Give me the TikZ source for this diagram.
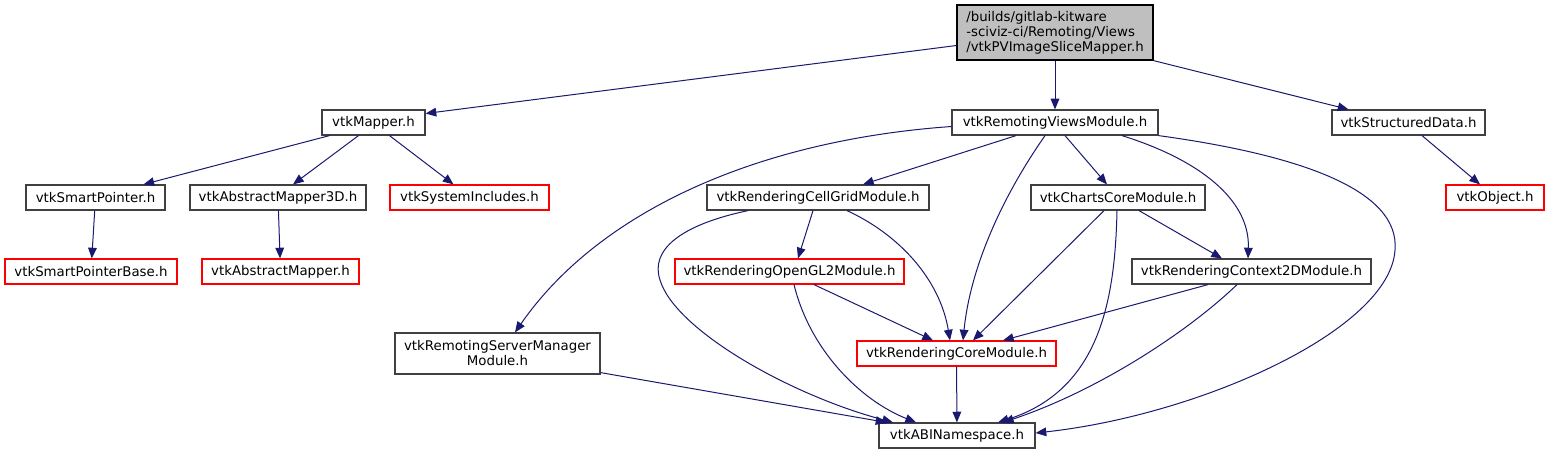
\documentclass[tikz,border=0pt]{standalone}
\usepackage{fontspec}
\setmainfont{DejaVu Sans}
\usetikzlibrary{arrows.meta,calc}
\definecolor{edgeblue}{HTML}{191970}
\definecolor{boxgrey}{HTML}{404040}
\definecolor{topfill}{HTML}{BFBFBF}
\tikzset{
  hdr/.style={draw=boxgrey,fill=white,line width=0.9pt,inner sep=0pt,minimum height=18.75pt,font=\fontsize{10}{11.25}\selectfont},
  hdrred/.style={hdr,draw=red},
  wd/.style={minimum width=#1*0.75pt},
  dep/.style={draw=edgeblue,line width=0.75pt,-{Triangle[length=8pt,width=6.5pt]}},
}
\begin{document}
\begin{tikzpicture}[x=0.75pt,y=-0.75pt]
  \useasboundingbox (0,0) rectangle (1549,455);
  % headers
  \node[hdr,draw=black,fill=topfill,wd=196,minimum height=41.25pt,align=left](top)at(1055,32.5){/builds/gitlab-kitware\\-sciviz-ci/Remoting/Views\\/vtkPVImageSliceMapper.h};
  \node[hdr,wd=103](mapper)at(373.5,122.5){vtkMapper.h};
  \node[hdr,wd=206](rviews)at(1055,122.5){vtkRemotingViewsModule.h};
  \node[hdr,wd=153](sdata)at(1408.5,122.5){vtkStructuredData.h};
  \node[hdr,wd=139](sptr)at(95.5,197.5){vtkSmartPointer.h};
  \node[hdr,wd=176](amap3d)at(278,197.5){vtkAbstractMapper3D.h};
  \node[hdrred,wd=159](sysinc)at(469.5,197.5){vtkSystemIncludes.h};
  \node[hdr,wd=222](cellgrid)at(818,197.5){vtkRenderingCellGridModule.h};
  \node[hdr,wd=174](charts)at(1118,197.5){vtkChartsCoreModule.h};
  \node[hdrred,wd=98](object)at(1495,197.5){vtkObject.h};
  \node[hdrred,wd=172](sptrbase)at(91,271.5){vtkSmartPointerBase.h};
  \node[hdrred,wd=157](amap)at(280.5,271.5){vtkAbstractMapper.h};
  \node[hdrred,wd=229](opengl)at(789.5,271.5){vtkRenderingOpenGL2Module.h};
  \node[hdr,wd=239](ctx2d)at(1251.5,271.5){vtkRenderingContext2DModule.h};
  \node[hdr,wd=205,minimum height=30.75pt,align=center](srvmgr)at(497.5,353.5){vtkRemotingServerManager\\Module.h};
  \node[hdrred,wd=199](rcore)at(956.5,353.5){vtkRenderingCoreModule.h};
  \node[hdr,wd=156](abi)at(957,435.5){vtkABINamespace.h};
  % includes
  \draw[dep] ($(top.west)+(0,13)$) -- ($(mapper.east)+(0,-9)$);
  \draw[dep] (top.south) -- (rviews.north);
  \draw[dep] (top.south east) -- ($(sdata.north)+(-60,0)$);
  \draw[dep] ($(mapper.south)+(-44,0)$) -- ($(sptr.north)+(48,0)$);
  \draw[dep] ($(mapper.south)+(-15,0)$) -- ($(amap3d.north)+(15,0)$);
  \draw[dep] ($(mapper.south)+(16,0)$) -- ($(sysinc.north)+(-16,0)$);
  \draw[dep] (sptr) -- (sptrbase);
  \draw[dep] (amap3d) -- (amap);
  \draw[dep] ($(sdata.south)+(13.5,0)$) -- ($(object.north)+(-15,0)$);
  \draw[dep] ($(rviews.south)+(-39,0)$) -- ($(cellgrid.north)+(45,0)$);
  \draw[dep] ($(rviews.south)+(10,0)$) -- ($(charts.north)+(-11,0)$);
  \draw[dep] ($(rviews.south)+(-10,0)$) .. controls (1000,200) and (970,270) .. ($(rcore.north)+(6.5,0)$);
  \draw[dep] ($(rviews.south)+(67,0)$) .. controls (1200,160) and (1250,200) .. ($(ctx2d.north)+(-3.5,0)$);
  \draw[dep] (rviews.south east) .. controls (1300,155) and (1400,190) .. (1395,250)
    .. controls (1390,330) and (1200,415) .. ($(abi.east)+(0,-2.5)$);
  \draw[dep] ($(rviews.west)+(0,4)$) .. controls (760,140) and (600,210) .. ($(srvmgr.north)+(17.5,0)$);
  \draw[dep] ($(cellgrid.south)+(-5,0)$) -- ($(opengl.north)+(8.5,0)$);
  \draw[dep] ($(cellgrid.south)+(29,0)$) .. controls (900,235) and (940,280) .. ($(rcore.north)+(-6.5,0)$);
  \draw[dep] ($(cellgrid.south)+(-70,0)$) .. controls (680,225) and (650,250) .. (660,280)
    .. controls (675,330) and (790,395) .. ($(abi.north)+(-64,0)$);
  \draw[dep] ($(opengl.south)+(24.5,0)$) -- ($(rcore.north)+(-23.5,0)$);
  \draw[dep] ($(opengl.south)+(4.5,0)$) .. controls (810,350) and (860,400) .. ($(abi.north)+(-41,0)$);
  \draw[dep] ($(charts.south)+(-14,0)$) -- ($(rcore.north)+(16.5,0)$);
  \draw[dep] ($(charts.south)+(-1,0)$) .. controls (1115,300) and (1100,390) .. ($(abi.north)+(41,0)$);
  \draw[dep] ($(charts.south)+(21,0)$) -- ($(ctx2d.north)+(-29.5,0)$);
  \draw[dep] ($(ctx2d.south)+(-43.5,0)$) -- ($(rcore.north)+(46.5,0)$);
  \draw[dep] ($(ctx2d.south)+(-14.5,0)$) .. controls (1190,330) and (1100,390) .. ($(abi.north)+(46,0)$);
  \draw[dep] (rcore) -- (abi);
  \draw[dep] ($(srvmgr.south east)+(0,-2)$) -- ($(abi.north west)+(8,0)$);
\end{tikzpicture}
\end{document}
